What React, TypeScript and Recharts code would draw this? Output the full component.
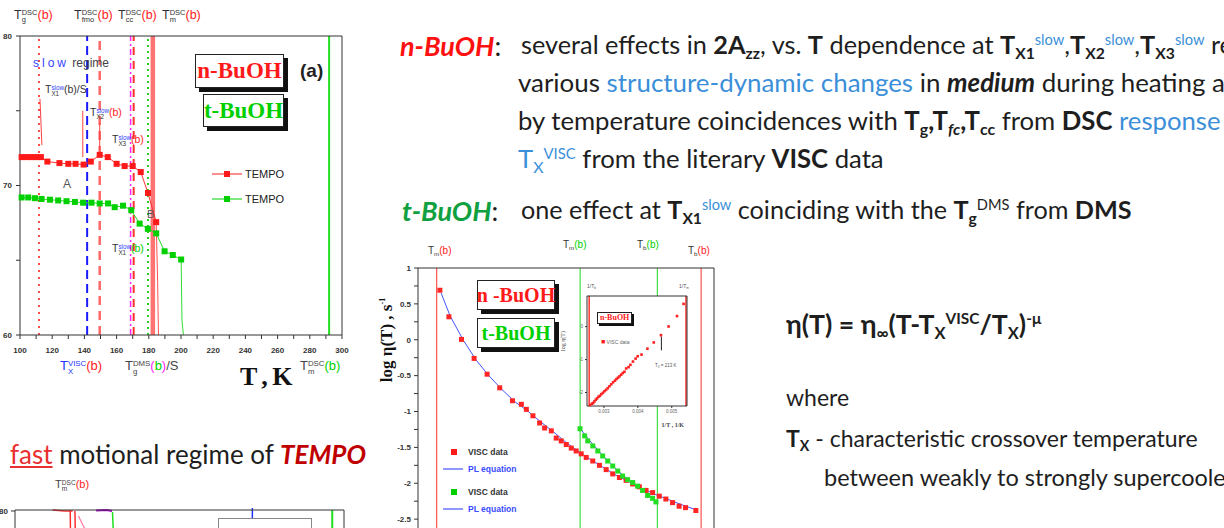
import type { ReactNode } from 'react'
import { ComposedChart, Line, XAxis, YAxis, ReferenceLine, ReferenceArea, Legend } from 'recharts'

const pts = (xs: number[], ys: number[]) => xs.map((x, i) => ({ x, y: ys[i] }))

// (a) 2Azz of TEMPO vs T, slow motional regime
const nbTemp = [101, 104, 107, 110, 113, 117, 124.5, 130, 134.5, 139.5, 144, 149.5, 154.5, 160, 165, 170, 175, 179.5, 184.6]
const nbAzz = [71.9, 71.9, 71.9, 71.9, 71.9, 71.6, 71.5, 71.45, 71.45, 71.4, 71.6, 72.05, 71.9, 71.45, 71.3, 71.3, 70.9, 69.5, 67.55]
const tbTemp = [101, 105.1, 109.3, 113.4, 118.6, 123.7, 128.9, 134.1, 139.2, 144.4, 149.5, 154.7, 158.8, 164, 169.1, 174.3, 179.4, 184.6, 189.8, 194.9, 200.1]
const tbAzz = [69.2, 69.2, 69.15, 69.1, 69.05, 69.0, 68.95, 68.9, 68.85, 68.85, 68.8, 68.8, 68.55, 68.65, 68.35, 67.45, 67.1, 66.8, 65.6, 65.35, 65.05]
// the spectra collapse above melting
const nbTailTemp = [184.6, 185.5, 186]
const nbTailAzz = [67.55, 63.5, 60]
const tbTailTemp = [200.1, 200.6, 201.5]
const tbTailAzz = [65.05, 61, 60]

const aTempTicks = [100, 110, 120, 130, 140, 150, 160, 170, 180, 190, 200, 210, 220, 230, 240, 250, 260, 270, 280, 290, 300]
const aAzzTicks = [60, 65, 70, 75, 80]

// characteristic temperatures, K
const TG_DSC_NB = 111.8
const TX_VISC_NB = 141.7
const TFC_DSC_NB = 149.5
const TG_DMS_TB = 168.7
const TCC_DSC_NB = 170.6
const TX1_SLOW_TB = 179.5
const TM_DSC_NB = 182.5
const TM_DSC_TB = 292

// (b) viscosity data and power-law fits
const viscNbTemp = [187, 194, 203.8, 213.6, 223.7, 233.5, 243.4, 250.3, 254.2, 259.3, 264.5, 268.4, 273.6, 277.4, 281.3, 285.2, 289.1, 292.9, 296.8, 300.7, 305.8, 311, 316.2, 321.3, 326.5, 331.7, 336.8, 342, 347.2, 352.3, 357.5, 362.6, 367.8, 372.9, 377.9, 385.9]
const viscNbLog = [0.69, 0.32, 0.005, -0.26, -0.48, -0.67, -0.85, -0.9, -0.97, -1.06, -1.16, -1.23, -1.27, -1.37, -1.41, -1.46, -1.51, -1.55, -1.59, -1.64, -1.69, -1.75, -1.81, -1.87, -1.92, -1.96, -2.01, -2.05, -2.1, -2.13, -2.18, -2.22, -2.27, -2.32, -2.34, -2.38]
const viscTbTemp = [295.9, 299.5, 301.9, 305.8, 309.7, 313.5, 317.4, 321.3, 325.2, 329, 332.9, 336.8, 340.6, 344.5, 348.4, 352.3, 354.9]
const viscTbLog = [-1.24, -1.34, -1.41, -1.48, -1.55, -1.62, -1.69, -1.76, -1.83, -1.9, -1.95, -1.99, -2.04, -2.1, -2.17, -2.21, -2.26]
const plNbTemp = [188, 195, 205, 215, 225, 235, 245, 255, 265, 275, 285, 295, 305, 315, 325, 335, 345, 355, 365, 375, 386]
const plNbLog = [0.65, 0.33, 0.0, -0.28, -0.5, -0.69, -0.86, -0.99, -1.14, -1.28, -1.43, -1.56, -1.68, -1.79, -1.9, -1.99, -2.08, -2.16, -2.23, -2.3, -2.37]
const plTbTemp = [297, 300, 305, 310, 315, 320, 325, 330, 335, 340, 345, 350, 355]
const plTbLog = [-1.26, -1.33, -1.44, -1.54, -1.64, -1.73, -1.82, -1.9, -1.97, -2.03, -2.1, -2.17, -2.25]

const bTempTicks = [170, 180, 190, 200, 210, 220, 230, 240, 250, 260, 270, 280, 290, 300, 310, 320, 330, 340, 350, 360, 370, 380, 390, 400]
const bLogTicks = [-3, -2.75, -2.5, -2.25, -2, -1.75, -1.5, -1.25, -1, -0.75, -0.5, -0.25, 0, 0.25, 0.5, 0.75, 1]

const TM_NB = 184.5
const TM_TB = 296
const TB_TB = 356
const TB_NB = 390
const TX_INSET = 213

const insetInvTicks = [0.003, 0.004, 0.005]
const insetLogTicks = [-2, -1, 0]

// fast motional regime (only the top edge of this panel is on the slide)
const fastNbTemp = [176, 181, 184.5]
const fastNbAzz = [80.2, 80, 80]
const fastNbDropTemp = [183.5, 184]
const fastNbDropAzz = [80, 60]
const fastNbDrop2Temp = [185.5, 186.3]
const fastNbDrop2Azz = [80, 60]
const fastPinkTemp = [187, 190.5]
const fastPinkAzz = [79, 75.6]
const fastMagTemp = [194.5, 199, 201.3]
const fastMagAzz = [80.1, 80.2, 80]
const fastTbTemp = [201.5, 202.3, 203]
const fastTbAzz = [79.8, 70, 55]
const cTempTicks = [160, 170, 180, 190, 200, 210, 220, 230, 240, 250, 260, 270, 280, 290, 300]

const axisFont = "Arial, 'Liberation Sans', sans-serif"
const slideFont = "Lato, 'Open Sans', sans-serif"
const serifFont = "'Liberation Serif', 'Times New Roman', serif"
const RED = '#ff1a1a'
const GREEN = '#00d000'
const BLUE_TXT = '#3b8fd9'
const INK = '#1e1e1e'

const squareDot = (color: string, size: number) => (p: any) => (
  <rect key={p.index} x={p.cx - size / 2} y={p.cy - size / 2} width={size} height={size} fill={color} />
)

const Sub = ({ children, c }: { children: ReactNode; c?: string }) => (
  <sub style={{ fontSize: '0.62em', color: c, verticalAlign: '-0.3em', lineHeight: 0 }}>{children}</sub>
)
const Sup = ({ children, c }: { children: ReactNode; c?: string }) => (
  <sup style={{ fontSize: '0.58em', color: c, verticalAlign: '0.62em', lineHeight: 0 }}>{children}</sup>
)
// superscript stacked over subscript, as in T_g^DSC
const Stack = ({ sup, sub, supC, subC }: { sup: string; sub: string; supC?: string; subC?: string }) => (
  <span style={{ display: 'inline-flex', flexDirection: 'column', fontSize: '0.6em', lineHeight: 0.95, verticalAlign: '0.5em' }}>
    <span style={{ color: supC }}>{sup}</span>
    <span style={{ color: subC }}>{sub}</span>
  </span>
)

const Note = ({ left, top, size = 11, color = '#333', children }: any) => (
  <div style={{ position: 'absolute', left, top, fontSize: size, color, fontFamily: axisFont, lineHeight: 1, whiteSpace: 'nowrap' }}>
    {children}
  </div>
)

const TagBox = ({ left, top, w, h, color, size, children }: any) => (
  <div
    style={{
      position: 'absolute', left, top, width: w, height: h, boxSizing: 'border-box',
      border: '1px solid #222', boxShadow: '4px 4px 0 #111', background: '#fff', color,
      fontFamily: serifFont, fontWeight: 700, fontSize: size,
      display: 'flex', alignItems: 'center', justifyContent: 'center', whiteSpace: 'nowrap',
    }}
  >
    {children}
  </div>
)

const Text = ({ left, top, size = 25.7, children }: any) => (
  <div style={{ position: 'absolute', left, top, fontFamily: slideFont, fontSize: size, color: INK, lineHeight: 1, whiteSpace: 'nowrap' }}>
    {children}
  </div>
)

// legends float over the plot, so they must not take space from it
const floatLegend = { layout: 'horizontal', verticalAlign: 'middle', align: 'center' } as const

function PanelA() {
  const tempTick = (p: any) => {
    const v = p.payload.value
    if (v % 20 !== 0) return <g />
    return (
      <text x={p.x} y={p.y} dy="0.71em" textAnchor="middle" fontSize={8} fontWeight={700} fill="#333" fontFamily={axisFont}>
        {v}
      </text>
    )
  }
  const azzTick = (p: any) => {
    const v = p.payload.value
    if (v % 10 !== 0) return <g />
    return (
      <text x={p.x} y={p.y} dy="0.355em" textAnchor="end" fontSize={8} fontWeight={700} fill="#333" fontFamily={axisFont}>
        {v}
      </text>
    )
  }
  const legend = () => (
    <div style={{ fontFamily: axisFont, fontSize: 11, color: '#222' }}>
      {[RED, GREEN].map((c, i) => (
        <div key={i} style={{ display: 'flex', alignItems: 'center', height: 25 }}>
          <svg width={30} height={10}>
            <line x1={0} y1={5} x2={30} y2={5} stroke={c} strokeWidth={1} />
            <rect x={12} y={2} width={6} height={6} fill={c} />
          </svg>
          <span style={{ marginLeft: 3 }}>TEMPO</span>
        </div>
      ))}
    </div>
  )
  return (
    <div style={{ position: 'absolute', left: 0, top: 0 }}>
      <ComposedChart width={360} height={400} margin={{ top: 35, right: 17, bottom: 45, left: 0 }}>
        <XAxis
          type="number" dataKey="x" domain={[100, 300]} ticks={aTempTicks} interval={0}
          stroke="#333" tickSize={4} tickMargin={8} height={20} tick={tempTick}
        />
        <XAxis xAxisId="top" orientation="top" type="number" dataKey="x" domain={[100, 300]} ticks={aTempTicks} interval={0} stroke="#333" tickSize={4} tick={false} height={1} />
        <YAxis type="number" domain={[60, 80]} ticks={aAzzTicks} interval={0} width={20} stroke="#333" tickSize={4} tickMargin={4} tick={azzTick} />
        <YAxis yAxisId="r" orientation="right" type="number" domain={[60, 80]} ticks={aAzzTicks} interval={0} width={1} stroke="#333" tickSize={4} tick={false} />
        <ReferenceLine x={TG_DSC_NB} stroke="#ff2020" strokeWidth={1.6} strokeDasharray="2 5" />
        <ReferenceLine x={TX_VISC_NB} stroke="#1a1aff" strokeWidth={2} strokeDasharray="9 5" />
        <ReferenceLine x={TFC_DSC_NB} stroke="#ff6666" strokeWidth={2.5} strokeDasharray="9 6" />
        <ReferenceLine x={TG_DMS_TB} stroke="#ff22ff" strokeWidth={1.5} strokeDasharray="6 3 2 3" />
        <ReferenceLine x={TCC_DSC_NB} stroke="#ff3030" strokeWidth={2} strokeDasharray="8 6" />
        <ReferenceLine x={TX1_SLOW_TB} stroke="#10cc10" strokeWidth={1.8} strokeDasharray="2 4" />
        <ReferenceLine x={TM_DSC_NB} stroke="#ff7373" strokeWidth={4.5} />
        <ReferenceLine x={TM_DSC_TB} stroke="#22dd22" strokeWidth={2} />
        {/* arrows from the slow-regime labels to the kinks */}
        <ReferenceLine segment={[{ x: 112.4, y: 75.8 }, { x: 113.6, y: 72.7 }]} stroke="#ff4040" strokeWidth={1} />
        <ReferenceLine segment={[{ x: 139, y: 75 }, { x: 139, y: 71.9 }]} stroke="#ff4040" strokeWidth={1} />
        <ReferenceLine segment={[{ x: 149.5, y: 74.2 }, { x: 149.5, y: 72.4 }]} stroke="#ff4040" strokeWidth={1} />
        <Line data={pts(nbTailTemp, nbTailAzz)} dataKey="y" stroke="#ff5050" strokeWidth={1} dot={false} isAnimationActive={false} legendType="none" />
        <Line data={pts(tbTailTemp, tbTailAzz)} dataKey="y" stroke="#33dd33" strokeWidth={1} dot={false} isAnimationActive={false} legendType="none" />
        <Line data={pts(nbTemp, nbAzz)} dataKey="y" name="TEMPO" stroke="#ff3030" strokeWidth={1} dot={squareDot(RED, 6)} isAnimationActive={false} />
        <Line data={pts(tbTemp, tbAzz)} dataKey="y" name="TEMPO" stroke="#22dd22" strokeWidth={1} dot={squareDot(GREEN, 6)} isAnimationActive={false} />
        <Legend {...floatLegend} content={legend} wrapperStyle={{ position: 'absolute', left: 212, top: 161, width: 100 }} />
      </ComposedChart>
    </div>
  )
}

function PanelB() {
  const logTick = (p: any) => {
    const v = p.payload.value
    if (Math.abs(v * 2 - Math.round(v * 2)) > 1e-6) return <g />
    return (
      <text x={p.x} y={p.y} dy="0.355em" textAnchor="end" fontSize={8} fontWeight={700} fill="#333" fontFamily={axisFont}>
        {v}
      </text>
    )
  }
  const legend = () => {
    const rows = [
      { c: RED, kind: 'dot', label: 'VISC data', tc: '#333', gap: 0 },
      { c: '#4455ff', kind: 'line', label: 'PL equation', tc: '#3a4cff', gap: 0 },
      { c: GREEN, kind: 'dot', label: 'VISC data', tc: '#333', gap: 6 },
      { c: '#4455ff', kind: 'line', label: 'PL equation', tc: '#3a4cff', gap: 0 },
    ]
    return (
      <div style={{ fontFamily: axisFont, fontSize: 8.5, fontWeight: 700 }}>
        {rows.map((r, i) => (
          <div key={i} style={{ display: 'flex', alignItems: 'center', height: 17, marginTop: r.gap }}>
            <svg width={22} height={8}>
              {r.kind === 'dot' ? <rect x={8} y={1} width={6} height={6} fill={r.c} /> : <line x1={0} y1={4} x2={20} y2={4} stroke={r.c} strokeWidth={1.2} />}
            </svg>
            <span style={{ marginLeft: 3, color: r.tc }}>{r.label}</span>
          </div>
        ))}
      </div>
    )
  }
  return (
    <div style={{ position: 'absolute', left: 375, top: 235 }}>
      <ComposedChart width={360} height={340} margin={{ top: 32, right: 20, bottom: 20, left: 0 }}>
        <XAxis orientation="top" type="number" dataKey="x" domain={[170, 400]} ticks={bTempTicks} interval={0} stroke="#333" tickSize={4} tick={false} height={1} />
        <YAxis type="number" domain={[-3, 1]} ticks={bLogTicks} interval={0} width={43} stroke="#333" tickSize={4} tickMargin={3} tick={logTick} />
        <YAxis yAxisId="r" orientation="right" type="number" domain={[-3, 1]} ticks={bLogTicks} interval={0} width={1} stroke="#333" tickSize={3} tick={false} />
        <ReferenceLine x={TM_NB} stroke="#ff5050" strokeWidth={1.2} />
        <ReferenceLine x={TM_TB} stroke="#44dd44" strokeWidth={1.2} />
        <ReferenceLine x={TB_TB} stroke="#44dd44" strokeWidth={1.2} />
        <ReferenceLine x={TB_NB} stroke="#ff5050" strokeWidth={1.2} />
        <Line data={pts(viscNbTemp, viscNbLog)} dataKey="y" stroke="none" dot={squareDot('#ff2525', 5)} isAnimationActive={false} />
        <Line data={pts(viscTbTemp, viscTbLog)} dataKey="y" stroke="none" dot={squareDot('#22dd22', 5)} isAnimationActive={false} />
        <Line data={pts(plNbTemp, plNbLog)} dataKey="y" stroke="#4455ff" strokeWidth={1} dot={false} isAnimationActive={false} />
        <Line data={pts(plTbTemp, plTbLog)} dataKey="y" stroke="#4455ff" strokeWidth={1} dot={false} isAnimationActive={false} />
        <Legend {...floatLegend} content={legend} wrapperStyle={{ position: 'absolute', left: 68, top: 208, width: 100 }} />
      </ComposedChart>
    </div>
  )
}

function Inset() {
  const inv = viscNbTemp.map((t) => 1 / t)
  const small = { fontSize: 4.5, fill: '#666', fontFamily: axisFont }
  return (
    <div style={{ position: 'absolute', left: 560, top: 280 }}>
      <ComposedChart width={135} height={148} margin={{ top: 15, right: 7, bottom: 10, left: 0 }}>
        <XAxis type="number" dataKey="x" domain={[0.0025, 0.00545]} ticks={insetInvTicks} interval={0} stroke="#333" tickSize={2} tick={small} tickFormatter={(v) => v.toFixed(3)} height={12}
          label={{ value: '1/T , 1/K', position: 'insideBottomRight', offset: -9, dx: -12, style: { fontSize: 6, fill: '#444', fontFamily: serifFont, fontWeight: 700 } }} />
        <XAxis xAxisId="top" orientation="top" type="number" dataKey="x" domain={[0.0025, 0.00545]} ticks={insetInvTicks} interval={0} stroke="#333" tickSize={2} tick={false} height={1} />
        <YAxis type="number" domain={[-2.41, 0.93]} ticks={insetLogTicks} interval={0} width={27} stroke="#333" tickSize={2} tick={small}
          label={{ value: 'log η(T)', angle: -90, position: 'insideLeft', offset: 3, style: { fontSize: 6, fill: '#444', fontFamily: serifFont } }} />
        <YAxis yAxisId="r" orientation="right" type="number" domain={[-2.41, 0.93]} ticks={insetLogTicks} interval={0} width={1} stroke="#333" tickSize={2} tick={false} />
        <ReferenceArea x1={0.0025} x2={0.00545} y1={-2.41} y2={0.93} fill="#fff" fillOpacity={1} stroke="none" />
        <ReferenceLine x={1 / TB_NB} stroke="#ff3030" strokeWidth={1.5} />
        <ReferenceLine x={1 / TM_NB} stroke="#ff3030" strokeWidth={1.5} />
        <ReferenceLine segment={[{ x: 1 / TX_INSET, y: -0.3 }, { x: 1 / TX_INSET, y: -0.72 }]} stroke="#222" strokeWidth={1} />
        <Line data={pts(inv, viscNbLog)} dataKey="y" stroke="none" dot={squareDot('#ff2020', 2.6)} isAnimationActive={false} />
      </ComposedChart>
    </div>
  )
}

function PanelC() {
  const azzTick = (p: any) => (
    <text x={p.x} y={p.y} dy="0.355em" textAnchor="end" fontSize={8} fontWeight={700} fill="#333" fontFamily={axisFont}>
      {p.payload.value}
    </text>
  )
  return (
    <div style={{ position: 'absolute', left: 0, top: 470 }}>
      <ComposedChart width={370} height={200} margin={{ top: 39, right: 25, bottom: 10, left: 0 }}>
        <XAxis orientation="top" type="number" dataKey="x" domain={[160, 300]} ticks={cTempTicks} interval={0} stroke="#333" tickSize={4} tick={false} height={1} />
        <YAxis type="number" domain={[50, 80]} ticks={[80]} interval={0} width={15} stroke="#333" tickSize={4} tickMargin={3} tick={azzTick} />
        <YAxis yAxisId="r" orientation="right" type="number" domain={[50, 80]} ticks={[80]} width={1} stroke="#333" tick={false} />
        <ReferenceLine x={295} stroke="#22dd22" strokeWidth={2} />
        <ReferenceLine segment={[{ x: 261, y: 80.6 }, { x: 261, y: 78 }]} stroke="#2233ff" strokeWidth={1.5} ifOverflow="visible" />
        <Line data={pts(fastNbTemp, fastNbAzz)} dataKey="y" stroke="#ff3030" strokeWidth={1.5} dot={false} isAnimationActive={false} />
        <Line data={pts(fastNbDropTemp, fastNbDropAzz)} dataKey="y" stroke="#ff3030" strokeWidth={1.5} dot={false} isAnimationActive={false} />
        <Line data={pts(fastNbDrop2Temp, fastNbDrop2Azz)} dataKey="y" stroke="#ff3030" strokeWidth={1.5} dot={false} isAnimationActive={false} />
        <Line data={pts(fastPinkTemp, fastPinkAzz)} dataKey="y" stroke="#ff7aa0" strokeWidth={1.2} dot={false} isAnimationActive={false} />
        <Line data={pts(fastMagTemp, fastMagAzz)} dataKey="y" stroke="#aa00cc" strokeWidth={2} dot={false} isAnimationActive={false} />
        <Line data={pts(fastTbTemp, fastTbAzz)} dataKey="y" stroke="#22dd22" strokeWidth={1.5} dot={false} isAnimationActive={false} />
      </ComposedChart>
    </div>
  )
}

export default function App() {
  return (
    <div style={{ position: 'absolute', left: 0, top: 0, width: 1224, height: 528, overflow: 'hidden', background: '#fff' }}>
      <PanelA />
      {/* panel (a) annotations */}
      <Note left={14} top={9} size={12.5}>T<Stack sup="DSC" sub="g" /><span style={{ color: RED }}>(b)</span></Note>
      <Note left={74} top={9} size={12.5}>T<Stack sup="DSC" sub="fmo" /><span style={{ color: RED }}>(b)</span></Note>
      <Note left={118} top={9} size={12.5}>T<Stack sup="DSC" sub="cc" /><span style={{ color: RED }}>(b)</span></Note>
      <Note left={162} top={9} size={12.5}>T<Stack sup="DSC" sub="m" /><span style={{ color: RED }}>(b)</span></Note>
      <Note left={33} top={57} size={12}>
        <span style={{ color: '#3344ff', letterSpacing: 3 }}>slow</span> <span style={{ color: '#444' }}>regime</span>
      </Note>
      <Note left={45} top={84} size={10.5}>T<Stack sup="slow" sub="X1" supC="#3344ff" />(b)/S</Note>
      <Note left={90} top={107} size={10.5}>T<Stack sup="slow" sub="X2" supC="#3344ff" /><span style={{ color: RED }}>(b)</span></Note>
      <Note left={112} top={134} size={10.5}>T<Stack sup="slow" sub="X3" supC="#3344ff" /><span style={{ color: RED }}>(b)</span></Note>
      <Note left={63} top={178} size={12} color="#555">A</Note>
      <Note left={147} top={209} size={11} color="#555">B</Note>
      <Note left={112} top={243} size={10.5}>T<Stack sup="slow" sub="X1" supC="#3344ff" /><span style={{ color: GREEN }}>(b)</span></Note>
      <TagBox left={195} top={54} w={89} h={34} color={RED} size={23}>n-BuOH</TagBox>
      <TagBox left={203} top={94} w={81} h={33} color={GREEN} size={23}>t-BuOH</TagBox>
      <Note left={300} top={61} size={19} color="#222"><b>(a)</b></Note>
      <Note left={60} top={359} size={13} color="#2233ff">T<Stack sup="VISC" sub="X" /><span style={{ color: RED }}>(b)</span></Note>
      <Note left={125} top={359} size={13} color="#444">T<Stack sup="DMS" sub="g" /><span style={{ color: '#ff22ff' }}>(</span><span style={{ color: GREEN }}>b</span><span style={{ color: '#ff22ff' }}>)</span>/S</Note>
      <div style={{ position: 'absolute', left: 240, top: 364, fontFamily: serifFont, fontWeight: 700, fontSize: 26, color: '#111', whiteSpace: 'nowrap', lineHeight: 1, letterSpacing: -1 }}>T , K</div>
      <Note left={300} top={359} size={13} color="#444">T<Stack sup="DSC" sub="m" /><span style={{ color: GREEN }}>(b)</span></Note>

      <Text left={10} top={441} size={26}>
        <span style={{ color: '#e83030', textDecoration: 'underline' }}>fast</span> motional regime of{' '}
        <b style={{ color: '#c00000', fontStyle: 'italic' }}>TEMPO</b>
      </Text>
      <PanelC />
      <Note left={55} top={479} size={11} color="#444">T<Stack sup="DSC" sub="m" /><span style={{ color: RED }}>(b)</span></Note>
      <div style={{ position: 'absolute', left: 218, top: 518, width: 92, height: 30, border: '1px solid #888', background: '#fff' }} />

      <PanelB />
      <Inset />
      {/* panel (b) annotations */}
      <Note left={428} top={246} size={10}>T<Sub>m</Sub><span style={{ color: RED }}>(b)</span></Note>
      <Note left={563} top={240} size={10}>T<Sub>m</Sub><span style={{ color: GREEN }}>(b)</span></Note>
      <Note left={637} top={240} size={10}>T<Sub>b</Sub><span style={{ color: GREEN }}>(b)</span></Note>
      <Note left={688} top={246} size={10}>T<Sub>b</Sub><span style={{ color: RED }}>(b)</span></Note>
      <div style={{ position: 'absolute', left: 387, top: 340, transform: 'translate(-50%, -50%) rotate(-90deg)', fontFamily: serifFont, fontWeight: 700, fontSize: 17, color: '#111', whiteSpace: 'nowrap' }}>
        log η(T) , s<sup style={{ fontSize: 8 }}>-1</sup>
      </div>
      <TagBox left={477} top={280} w={78} h={30} color={RED} size={20}>n -BuOH</TagBox>
      <TagBox left={477} top={318} w={78} h={30} color={GREEN} size={20}>t-BuOH</TagBox>
      <Note left={587} top={284} size={5} color="#555">1/T<Sub>b</Sub></Note>
      <Note left={679} top={284} size={5} color="#555">1/T<Sub>m</Sub></Note>
      <div style={{ position: 'absolute', left: 597, top: 312, border: '1px solid #222', boxShadow: '2px 2px 0 #111', background: '#fff', color: RED, fontFamily: serifFont, fontWeight: 700, fontSize: 8, padding: '1px 2px', lineHeight: 1 }}>n-BuOH</div>
      <Note left={601} top={338} size={5} color="#666"><span style={{ color: RED, fontSize: 7 }}>■</span> VISC data</Note>
      <Note left={655} top={364} size={4.5} color="#555">T<Sub>X</Sub> = 213 K</Note>

      {/* slide text */}
      <Text left={400} top={32} size={27}><i style={{ color: '#ff1010', fontWeight: 700 }}>n-BuOH</i>:</Text>
      <Text left={521} top={32} size={25.3}>
        several effects in <b>2A<Sub>zz</Sub></b>, vs. <b>T</b> dependence at <b>T<Sub>X1</Sub></b><Sup c={BLUE_TXT}>slow</Sup>,<b>T<Sub>X2</Sub></b><Sup c={BLUE_TXT}>slow</Sup>,<b>T<Sub>X3</Sub></b><Sup c={BLUE_TXT}>slow</Sup> reflect
      </Text>
      <Text left={518} top={70} size={25.9}>
        various <span style={{ color: BLUE_TXT }}>structure-dynamic changes</span> in <b><i>medium</i></b> during heating and
      </Text>
      <Text left={518} top={108}>
        by temperature coincidences with <b>T<Sub>g</Sub>,T<Sub><i>fc</i></Sub>,T<Sub>cc</Sub></b> from <b>DSC</b> <span style={{ color: BLUE_TXT }}>response</span>
      </Text>
      <Text left={518} top={146}>
        <span style={{ color: BLUE_TXT }}>T<Sub>X</Sub><Sup>VISC</Sup></span> from the literary <b>VISC</b> data
      </Text>
      <Text left={402} top={197} size={27}><i style={{ color: '#10a040', fontWeight: 700 }}>t-BuOH</i>:</Text>
      <Text left={521} top={197} size={25.2}>
        one effect at <b>T<Sub>X1</Sub></b><Sup c={BLUE_TXT}>slow</Sup> coinciding with the <b>T<Sub>g</Sub></b><Sup>DMS</Sup> from <b>DMS</b>
      </Text>

      <Text left={786} top={311} size={26.6}>
        <b>η(T) = η<Sub>∞</Sub>(T-T<Sub>X</Sub><Sup>VISC</Sup>/T<Sub>X</Sub>)<Sup>-μ</Sup></b>
      </Text>
      <Text left={786} top={386} size={23}>where</Text>
      <Text left={786} top={427} size={23}><b>T<Sub>X</Sub></b> - characteristic crossover temperature</Text>
      <Text left={824} top={466} size={23.5}>between weakly to strongly supercooled</Text>
    </div>
  )
}
